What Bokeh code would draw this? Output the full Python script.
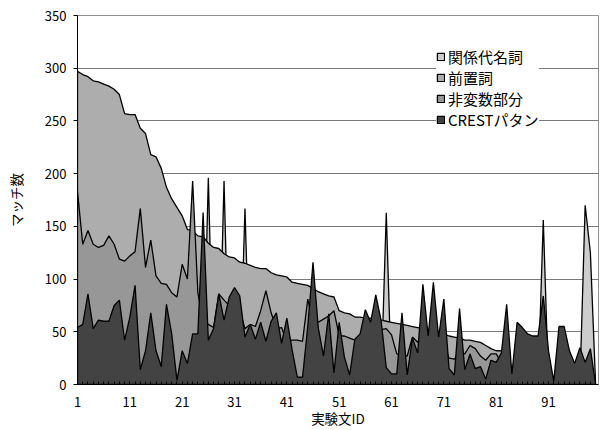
from bokeh.plotting import figure
from bokeh.models import Range1d, FixedTicker, Legend, LegendItem
from bokeh.embed import file_html
from bokeh.resources import INLINE

FONT = "Noto Sans CJK JP"

ids = list(range(1, 101))
x_ticks = [1, 11, 21, 31, 41, 51, 61, 71, 81, 91]
y_ticks = [0, 50, 100, 150, 200, 250, 300, 350]

series_names = ["関係代名詞", "前置詞", "非変数部分", "CRESTパタン"]

rel_pronoun = [0, 0, 0, 0, 0, 0, 0, 0, 0, 0,
               0, 0, 0, 0, 0, 0, 0, 0, 0, 0,
               0, 0, 0, 0, 0, 196, 0, 0, 193, 0,
               0, 0, 167, 0, 0, 0, 0, 0, 0, 0,
               0, 0, 0, 0, 0, 0, 0, 0, 0, 0,
               0, 0, 0, 0, 0, 0, 0, 0, 0, 163,
               0, 0, 0, 0, 0, 0, 0, 0, 0, 0,
               0, 0, 0, 0, 0, 0, 0, 0, 0, 0,
               0, 0, 0, 0, 0, 0, 0, 0, 0, 156,
               0, 0, 0, 0, 0, 0, 0, 170, 125, 0]

preposition = [297, 294, 292, 288, 287, 285, 283, 280, 275, 257,
               256, 256, 243, 238, 218, 216, 205, 187, 176, 168,
               160, 147, 146, 141, 140, 134, 130, 129, 124, 121,
               120, 116, 115, 113, 111, 110, 110, 106, 104, 103,
               102, 97, 96, 95, 94, 91, 88, 86, 84, 83,
               70, 68, 67, 64, 64, 63, 63, 62, 61, 60,
               59, 58, 57, 56, 55, 54, 53, 52, 51, 49,
               48, 46, 45, 44, 42, 42, 41, 40, 37, 34,
               32, 32, 31, 0, 0, 0, 0, 0, 0, 0,
               0, 0, 0, 0, 0, 0, 0, 0, 0, 0]

nonvariable = [183, 133, 146, 133, 130, 132, 141, 133, 119, 117,
               122, 126, 167, 111, 137, 103, 96, 95, 87, 83,
               114, 100, 193, 87, 60, 57, 54, 86, 80, 75,
               70, 70, 53, 57, 55, 70, 89, 68, 53, 54,
               40, 42, 42, 41, 81, 60, 59, 62, 65, 70,
               46, 46, 44, 42, 45, 50, 50, 52, 52, 53,
               47, 29, 28, 27, 45, 40, 50, 45, 45, 40,
               38, 25, 24, 30, 29, 37, 34, 27, 23, 29,
               29, 21, 20, 5, 5, 5, 5, 5, 5, 5,
               5, 0, 5, 5, 5, 5, 5, 5, 5, 0]

crest = [54, 57, 86, 53, 61, 60, 60, 75, 80, 42,
         64, 94, 14, 32, 68, 32, 17, 76, 48, 4,
         32, 20, 48, 48, 163, 42, 53, 86, 61, 83,
         92, 84, 45, 57, 43, 59, 41, 60, 68, 39,
         63, 33, 7, 7, 55, 116, 54, 27, 67, 11,
         59, 26, 9, 43, 48, 71, 59, 85, 61, 16,
         10, 10, 68, 9, 44, 30, 95, 46, 97, 45,
         81, 15, 9, 72, 14, 29, 15, 17, 5, 23,
         21, 30, 76, 10, 59, 54, 48, 46, 46, 84,
         32, 3, 55, 55, 32, 20, 35, 21, 34, 0]

colors = ["#cdcdcd", "#adadad", "#979797", "#434343"]

p = figure(width=602, height=430,
           x_range=Range1d(1, 100.55), y_range=Range1d(0, 350),
           output_backend="svg", toolbar_location=None,
           min_border_left=77, min_border_right=4,
           min_border_top=15, min_border_bottom=46)
p.outline_line_color = "#909090"
p.outline_line_width = 1
p.background_fill_color = "white"

renderers = []
for vals, col in zip([rel_pronoun, preposition, nonvariable, crest], colors):
    xs = ids + ids[::-1]
    ys = vals + [0] * len(vals)
    r = p.patch(xs, ys, fill_color=col, line_color="black", line_width=1.3)
    renderers.append(r)

# axes
p.xaxis.ticker = FixedTicker(ticks=x_ticks, minor_ticks=ids)
p.yaxis.ticker = FixedTicker(ticks=y_ticks, minor_ticks=[])
for ax in (p.xaxis[0], p.yaxis[0]):
    ax.axis_line_color = "black"
    ax.axis_line_width = 1
    ax.major_tick_line_color = "black"
    ax.minor_tick_line_color = "black"
    ax.major_label_text_font = FONT
    ax.major_label_text_font_size = "13px"
    ax.major_label_text_color = "black"
    ax.axis_label_text_font = FONT
    ax.axis_label_text_font_size = "13.5px"
    ax.axis_label_text_font_style = "normal"
    ax.axis_label_text_color = "black"

p.xaxis.major_tick_in = 3
p.xaxis.major_tick_out = 0
p.xaxis.minor_tick_in = 3
p.xaxis.minor_tick_out = 0
p.xaxis.major_label_standoff = 12
p.xaxis.axis_label = "実験文ID"
p.xaxis.axis_label_standoff = -2

p.yaxis.major_tick_in = 0
p.yaxis.major_tick_out = 4
p.yaxis.minor_tick_in = 0
p.yaxis.minor_tick_out = 0
p.yaxis.major_label_standoff = 7
p.yaxis.axis_label = "マッチ数"
p.yaxis.axis_label_standoff = 16

p.xgrid.visible = False
p.ygrid.grid_line_color = "#7a7a7a"
p.ygrid.grid_line_width = 1

legend = Legend(
    items=[LegendItem(label=n, renderers=[r]) for n, r in zip(series_names, renderers)],
    location=(359, 254), orientation="vertical",
    glyph_width=9, glyph_height=9, label_standoff=3,
    padding=6, spacing=-2, margin=0, label_height=18,
    border_line_color=None, background_fill_color="white", background_fill_alpha=1,
    label_text_font=FONT, label_text_font_size="15px", label_text_color="black",
)
p.add_layout(legend)

open("out.html", "w").write(file_html(p, INLINE))
